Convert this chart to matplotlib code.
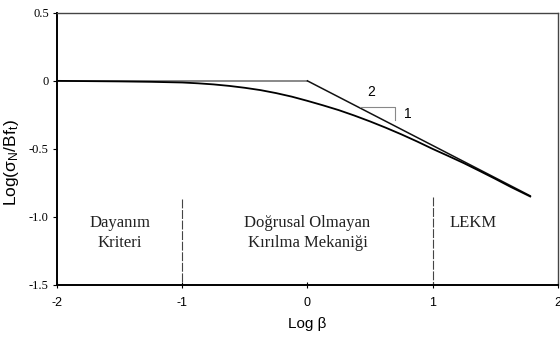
import matplotlib
matplotlib.use("Agg")
from matplotlib import pyplot as plt

plt.rcParams["mathtext.fontset"] = "custom"
plt.rcParams["mathtext.rm"] = "Liberation Sans"
plt.rcParams["mathtext.it"] = "Liberation Sans"

# size effect curve and its two asymptotes (strength criterion, LEFM)
log_beta = [-2.0, -1.5, -1.25, -1.0, -0.875, -0.75, -0.625, -0.5, -0.375, -0.25, -0.125, 0.0,
            0.125, 0.25, 0.375, 0.5, 0.625, 0.75, 0.875, 1.0, 1.125, 1.25, 1.375, 1.5, 1.625, 1.78]
log_sigma = [0.0, -0.004, -0.007, -0.012, -0.018, -0.026, -0.037, -0.051, -0.068, -0.09, -0.116, -0.147,
             -0.18, -0.215, -0.255, -0.298, -0.344, -0.393, -0.445, -0.5, -0.552, -0.605, -0.662, -0.72, -0.78, -0.85]

asym_x = [-2.0, 0.0, 1.78]
asym_y = [0.0, 0.0, -0.845]

# region boundaries and their labels
region_x = [-1.0, 1.0]
region_top = [-0.87, -0.85]
region_labels = ["Dayanım\nKriteri", "Doğrusal Olmayan\nKırılma Mekaniği", "LEKM"]
region_label_x = [-1.5, 0.0, 1.32]
region_label_y = [-1.12, -1.12, -1.045]

x_ticks = [-2, -1, 0, 1, 2]
y_ticks = [0.5, 0.0, -0.5, -1.0, -1.5]
y_ticklabels = ["0.5", "0", "-0.5", "-1.0", "-1.5"]

fig = plt.figure(figsize=(5.6, 3.38), dpi=100)
ax = fig.add_axes([0.102, 0.157, 0.894, 0.805])

ax.plot(asym_x[:2], asym_y[:2], color="#808080", lw=1.3, zorder=2)
ax.plot(asym_x[1:], asym_y[1:], color="#111111", lw=1.1, zorder=2)
ax.plot(log_beta, log_sigma, color="black", lw=1.3, zorder=3)

for x, top in zip(region_x, region_top):
    ax.plot([x, x], [top, -1.5], color="#444444", lw=0.8, ls=(0, (8, 1.5)))

for label, x, y in zip(region_labels, region_label_x, region_label_y):
    ax.text(x, y, label, ha="center", va="center", family="Liberation Serif",
            fontsize=12, linespacing=1.35, color="#222222")

# slope triangle 2:1
ax.plot([0.42, 0.70, 0.70], [-0.19, -0.19, -0.29], color="#888888", lw=0.8)
ax.text(0.51, -0.085, "2", ha="center", va="center", family="Liberation Sans", fontsize=10)
ax.text(0.80, -0.24, "1", ha="center", va="center", family="Liberation Sans", fontsize=10)

ax.set_xlim(-2, 2)
ax.set_ylim(-1.5, 0.5)
ax.set_xticks(x_ticks)
ax.set_xticklabels([str(t) for t in x_ticks], family="Liberation Sans", fontsize=9)
ax.set_yticks(y_ticks)
ax.set_yticklabels(y_ticklabels, family="Liberation Serif", fontsize=9)
ax.tick_params(axis="y", direction="out", length=3, width=0.8, pad=3)
ax.tick_params(axis="x", direction="inout", length=5, width=0.8, pad=6)

for side in ["left", "bottom"]:
    ax.spines[side].set_linewidth(1.4)
    ax.spines[side].set_color("black")
for side in ["top", "right"]:
    ax.spines[side].set_linewidth(1.0)
    ax.spines[side].set_color("#444444")

ax.set_xlabel("Log β", family="Liberation Sans", fontsize=11, labelpad=6)
ax.set_ylabel(r"Log($\mathrm{\sigma_N}$/Bf$_\mathrm{t}$)", family="Liberation Sans",
              fontsize=12.5, labelpad=4)
ax.yaxis.set_label_coords(-0.072, 0.45)

fig.savefig("out.png", dpi=100)
